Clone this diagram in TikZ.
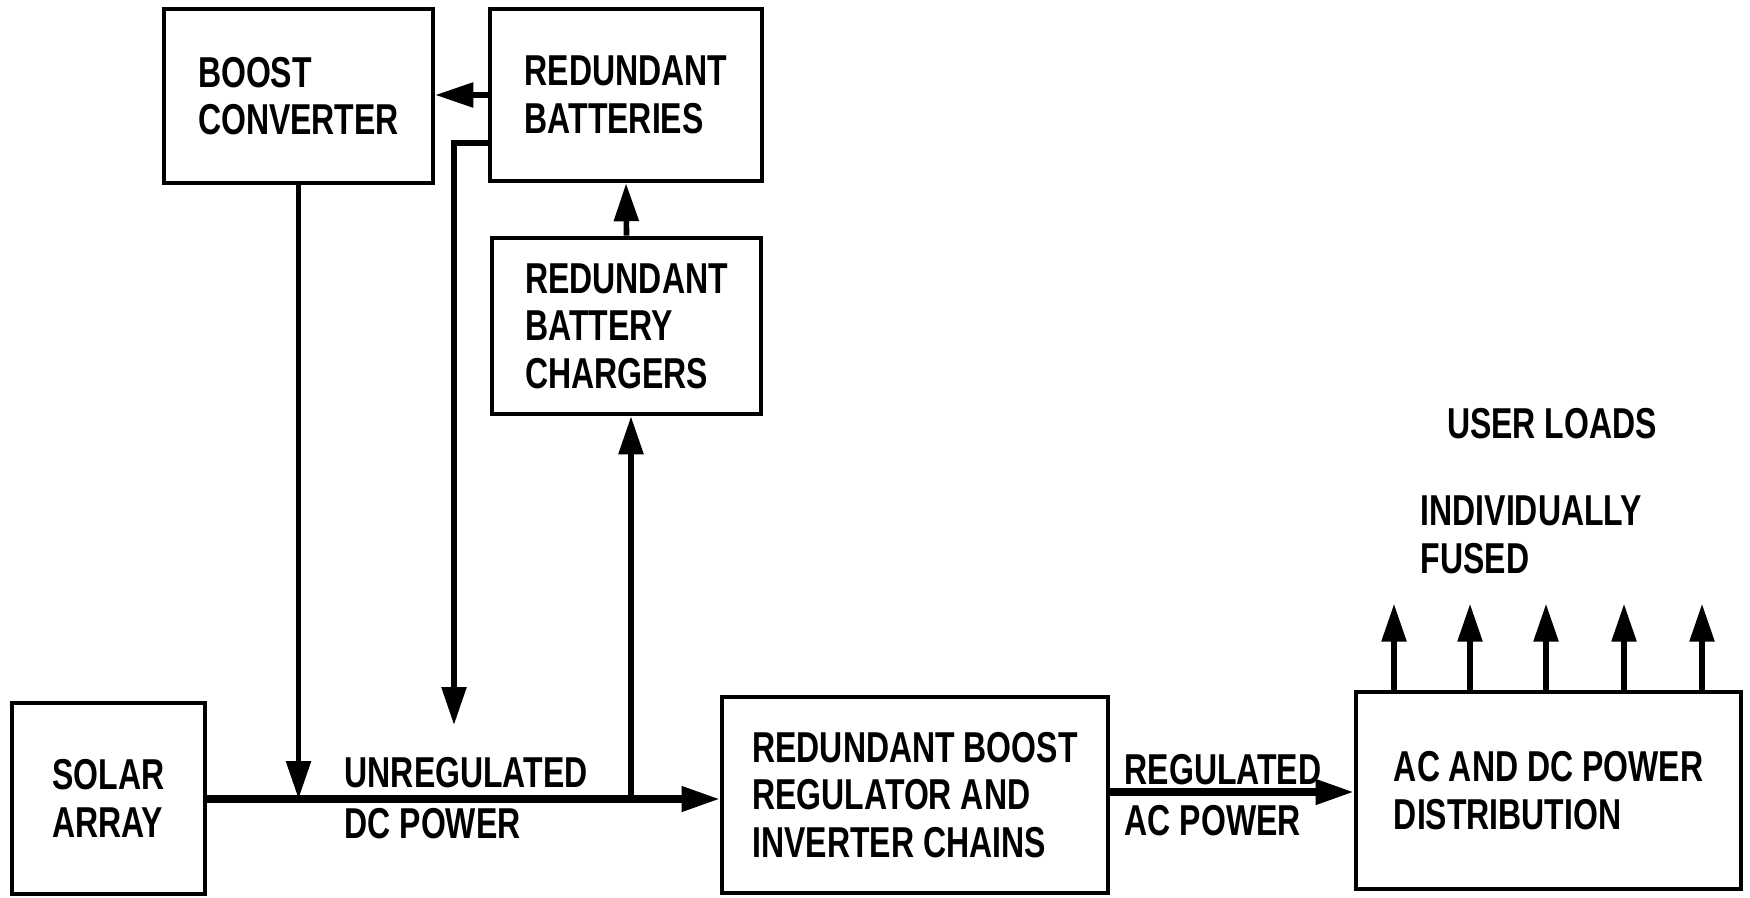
\documentclass[tikz,border=0pt]{standalone}
\usepackage{fontspec}
\setmainfont[FakeStretch=0.74]{Liberation Sans}
\usetikzlibrary{arrows.meta,positioning,calc}

\begin{document}
\begin{tikzpicture}[font=\fontsize{12.3}{13.5}\selectfont\bfseries,
  blk/.style={draw,line width=1.3pt,align=left,inner sep=0pt},
  flow/.style={line width=1.6pt,-{Triangle[length=3.8mm,width=2.4mm]}},
  lbl/.style={align=left,inner sep=0pt}]
\useasboundingbox (0,0) rectangle (17.5,8.97);
\node[blk,minimum width=2.69cm,minimum height=1.74cm] (boost) at (2.985,8.01) {BOOST\\CONVERTER};
\node[blk,minimum width=2.72cm,minimum height=1.72cm] (batt) at (6.26,8.02) {REDUNDANT\\BATTERIES};
\node[blk,minimum width=2.69cm,minimum height=1.76cm] (chg) at (6.265,5.71) {REDUNDANT\\BATTERY\\CHARGERS};
\node[blk,minimum width=1.93cm,minimum height=1.91cm] (solar) at (1.085,0.985) {SOLAR\\ARRAY};
\node[blk,minimum width=3.86cm,minimum height=1.96cm] (reg) at (9.15,1.02) {REDUNDANT BOOST\\REGULATOR AND\\INVERTER CHAINS};
\node[blk,minimum width=3.85cm,minimum height=1.97cm] (dist) at (15.485,1.065) {AC AND DC POWER\\DISTRIBUTION};
\coordinate (bus) at (0,0.98);
\coordinate (tap) at (6.31,0.98);
\coordinate (dcin) at (4.54,1.72);
\coordinate (acbus) at (0,1.05);
\draw[flow,line width=2pt] (solar.east |- bus) -- (reg.west |- bus);
\draw[flow] (boost.south) -- (boost.south |- bus);
\draw[flow] (batt.west) -- (batt.west -| boost.east);
\draw[flow] ($(batt.west)+(0,-0.48)$) -| (dcin);
\draw[flow] (tap) -- (tap |- chg.south);
\draw[flow] (chg.north) -- (batt.south);
\draw[flow,line width=2pt] (reg.east |- acbus) -- (dist.west |- acbus);
\foreach \x in {13.94,14.70,15.46,16.24,17.02}
  \draw[flow] (\x,0 |- dist.north) -- ++(0,0.86);
\node[lbl,anchor=west] (dclab) at (3.44,0.985) {UNREGULATED\\[1pt]DC POWER};
\node[lbl,anchor=west] (aclab) at (11.24,1.02) {REGULATED\\[1pt]AC POWER};
\node[lbl] (loads) at (15.52,4.73) {USER LOADS};
\node[lbl,anchor=west] (fused) at (14.2,3.62) {INDIVIDUALLY\\FUSED};
\end{tikzpicture}
\end{document}
